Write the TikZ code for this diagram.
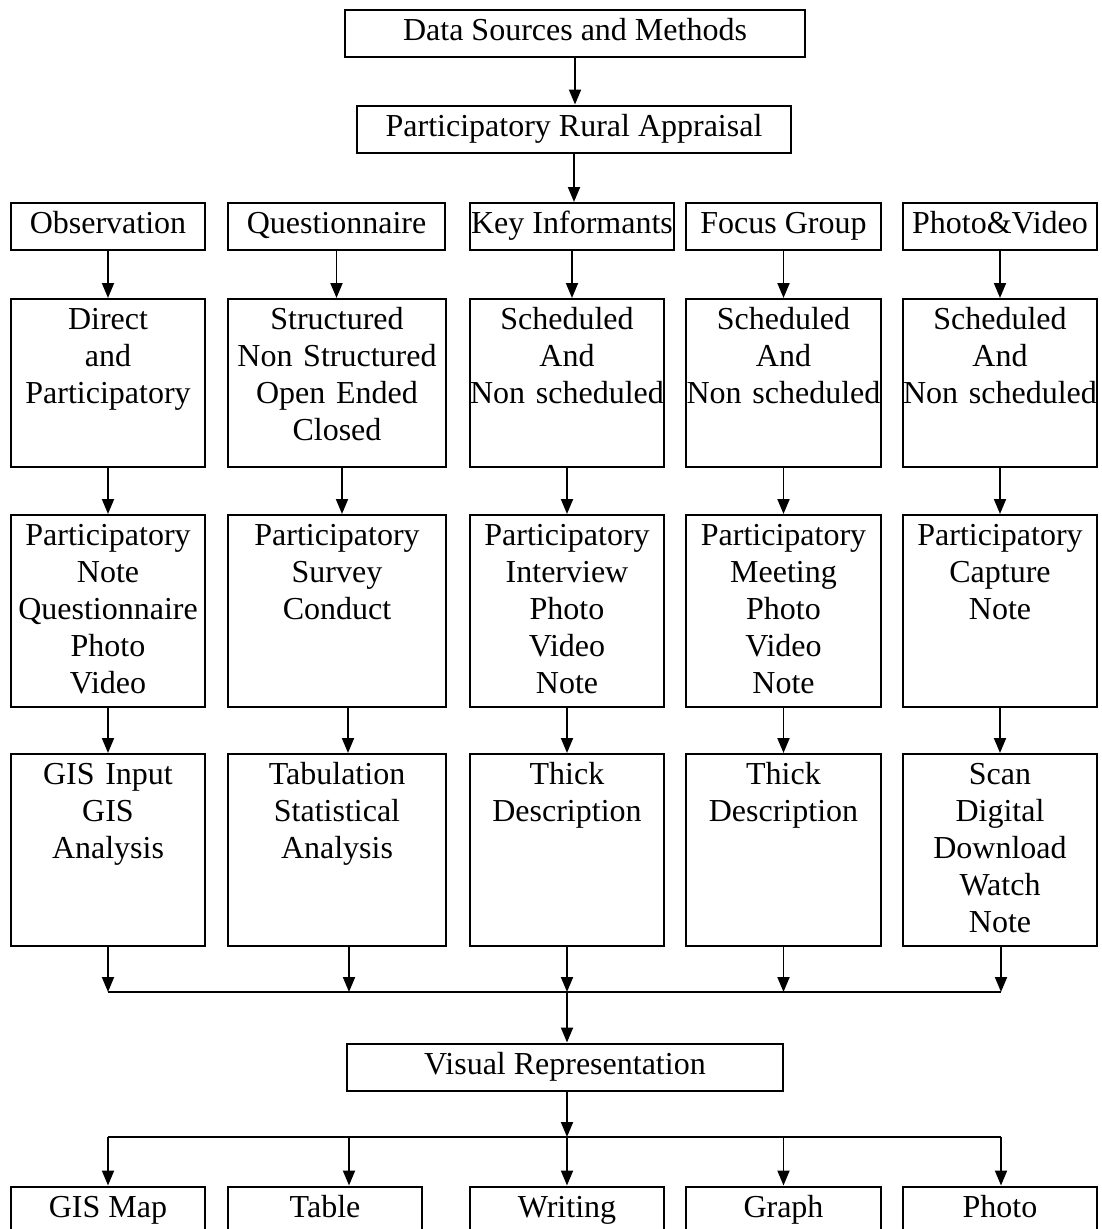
\documentclass[tikz,border=0pt]{standalone}
\usepackage{fontspec}
\setmainfont{Liberation Serif}
\usetikzlibrary{arrows.meta}

\begin{document}
\begin{tikzpicture}[x=1pt, y=-1pt, >={Triangle[length=15pt,width=12pt]},
  font=\fontsize{32}{37}\selectfont,
  head/.style={draw, line width=2pt, inner sep=0pt, minimum height=47pt, text height=22pt, text depth=8pt},
  cell/.style 2 args={draw, line width=2pt, anchor=north, inner sep=0pt, text width=#1, text height=30pt, text depth=#2, align=center},
  link/.style={->, line width=1.9pt}]
  \useasboundingbox (0,0) rectangle (1101,1229);
  \clip (0,0) rectangle (1101,1229);

  % top of the tree
  \node[head, minimum width=460pt] (dsm) at (575,33.5) {Data Sources and Methods};
  \node[head, minimum width=434pt] (pra) at (574,129) {Participatory Rural Appraisal};

  % methods
  \node[head, minimum width=194pt] (m1) at (108,226.5) {Observation};
  \node[head, minimum width=217pt] (m2) at (336.5,226.5) {Questionnaire};
  \node[head, minimum width=204pt] (m3) at (572,226.5) {Key Informants};
  \node[head, minimum width=195pt] (m4) at (783.5,226.5) {Focus Group};
  \node[head, minimum width=194pt] (m5) at (1000,226.5) {Photo\&Video};

  % kinds
  \node[cell={194pt}{138pt}] (k1) at (108,298) {Direct\\and\\Participatory};
  \node[cell={218pt}{138pt}] (k2) at (337,298) {Structured\\Non Structured\\Open Ended\\Closed};
  \node[cell={194pt}{138pt}] (k3) at (567,298) {Scheduled\\And\\Non scheduled};
  \node[cell={195pt}{138pt}] (k4) at (783.5,298) {Scheduled\\And\\Non scheduled};
  \node[cell={194pt}{138pt}] (k5) at (1000,298) {Scheduled\\And\\Non scheduled};

  % collection
  \node[cell={194pt}{162pt}] (c1) at (108,514) {Participatory\\Note\\Questionnaire\\Photo\\Video};
  \node[cell={218pt}{162pt}] (c2) at (337,514) {Participatory\\Survey\\Conduct};
  \node[cell={194pt}{162pt}] (c3) at (567,514) {Participatory\\Interview\\Photo\\Video\\Note};
  \node[cell={195pt}{162pt}] (c4) at (783.5,514) {Participatory\\Meeting\\Photo\\Video\\Note};
  \node[cell={194pt}{162pt}] (c5) at (1000,514) {Participatory\\Capture\\Note};

  % processing
  \node[cell={194pt}{162pt}] (p1) at (108,753) {GIS Input\\GIS\\Analysis};
  \node[cell={218pt}{162pt}] (p2) at (337,753) {Tabulation\\Statistical\\Analysis};
  \node[cell={194pt}{162pt}] (p3) at (567,753) {Thick\\Description};
  \node[cell={195pt}{162pt}] (p4) at (783.5,753) {Thick\\Description};
  \node[cell={194pt}{162pt}] (p5) at (1000,753) {Scan\\Digital\\Download\\Watch\\Note};

  \node[head, minimum width=436pt] (vis) at (565,1067) {Visual Representation};

  % outputs
  \node[head, minimum width=194pt] (v1) at (108,1210) {GIS Map};
  \node[head, minimum width=194pt] (v2) at (325,1210) {Table};
  \node[head, minimum width=194pt] (v3) at (567,1210) {Writing};
  \node[head, minimum width=195pt] (v4) at (783.5,1210) {Graph};
  \node[head, minimum width=194pt] (v5) at (1000,1210) {Photo};

  % arrows down the columns
  \draw[link] (dsm.south) -- (dsm.south |- pra.north);
  \draw[link] (pra.south) -- (pra.south |- m3.north);
  \foreach \i in {1,...,5}
    \draw[link] (m\i.south) -- (m\i.south |- k\i.north);
  \foreach \i/\dx in {1/0,2/5,3/0,4/0,5/0}
    \draw[link] ([xshift=\dx]k\i.south) -- ([xshift=\dx]c\i.north);
  \foreach \i/\dx in {1/0,2/11,3/0,4/0,5/0}
    \draw[link] ([xshift=\dx]c\i.south) -- ([xshift=\dx]p\i.north);

  % the two bus lines
  \coordinate (busA) at (0,992);
  \coordinate (busB) at (0,1137);
  \foreach \i/\dx in {1/0,2/12,3/0,4/0,5/1}
    \coordinate (stem\i) at ([xshift=\dx]p\i.south);
  \foreach \i in {1,...,5}{
    \draw[link] (stem\i) -- (stem\i |- busA);
    \draw[link] (stem\i |- busB) -- (stem\i |- v\i.north);
  }
  \draw[line width=1.9pt] (stem1 |- busA) -- (stem5 |- busA);
  \draw[line width=1.9pt] (stem1 |- busB) -- (stem5 |- busB);
  \draw[link] (stem3 |- busA) -- (stem3 |- vis.north);
  \draw[link] (stem3 |- vis.south) -- (stem3 |- busB);
\end{tikzpicture}
\end{document}
